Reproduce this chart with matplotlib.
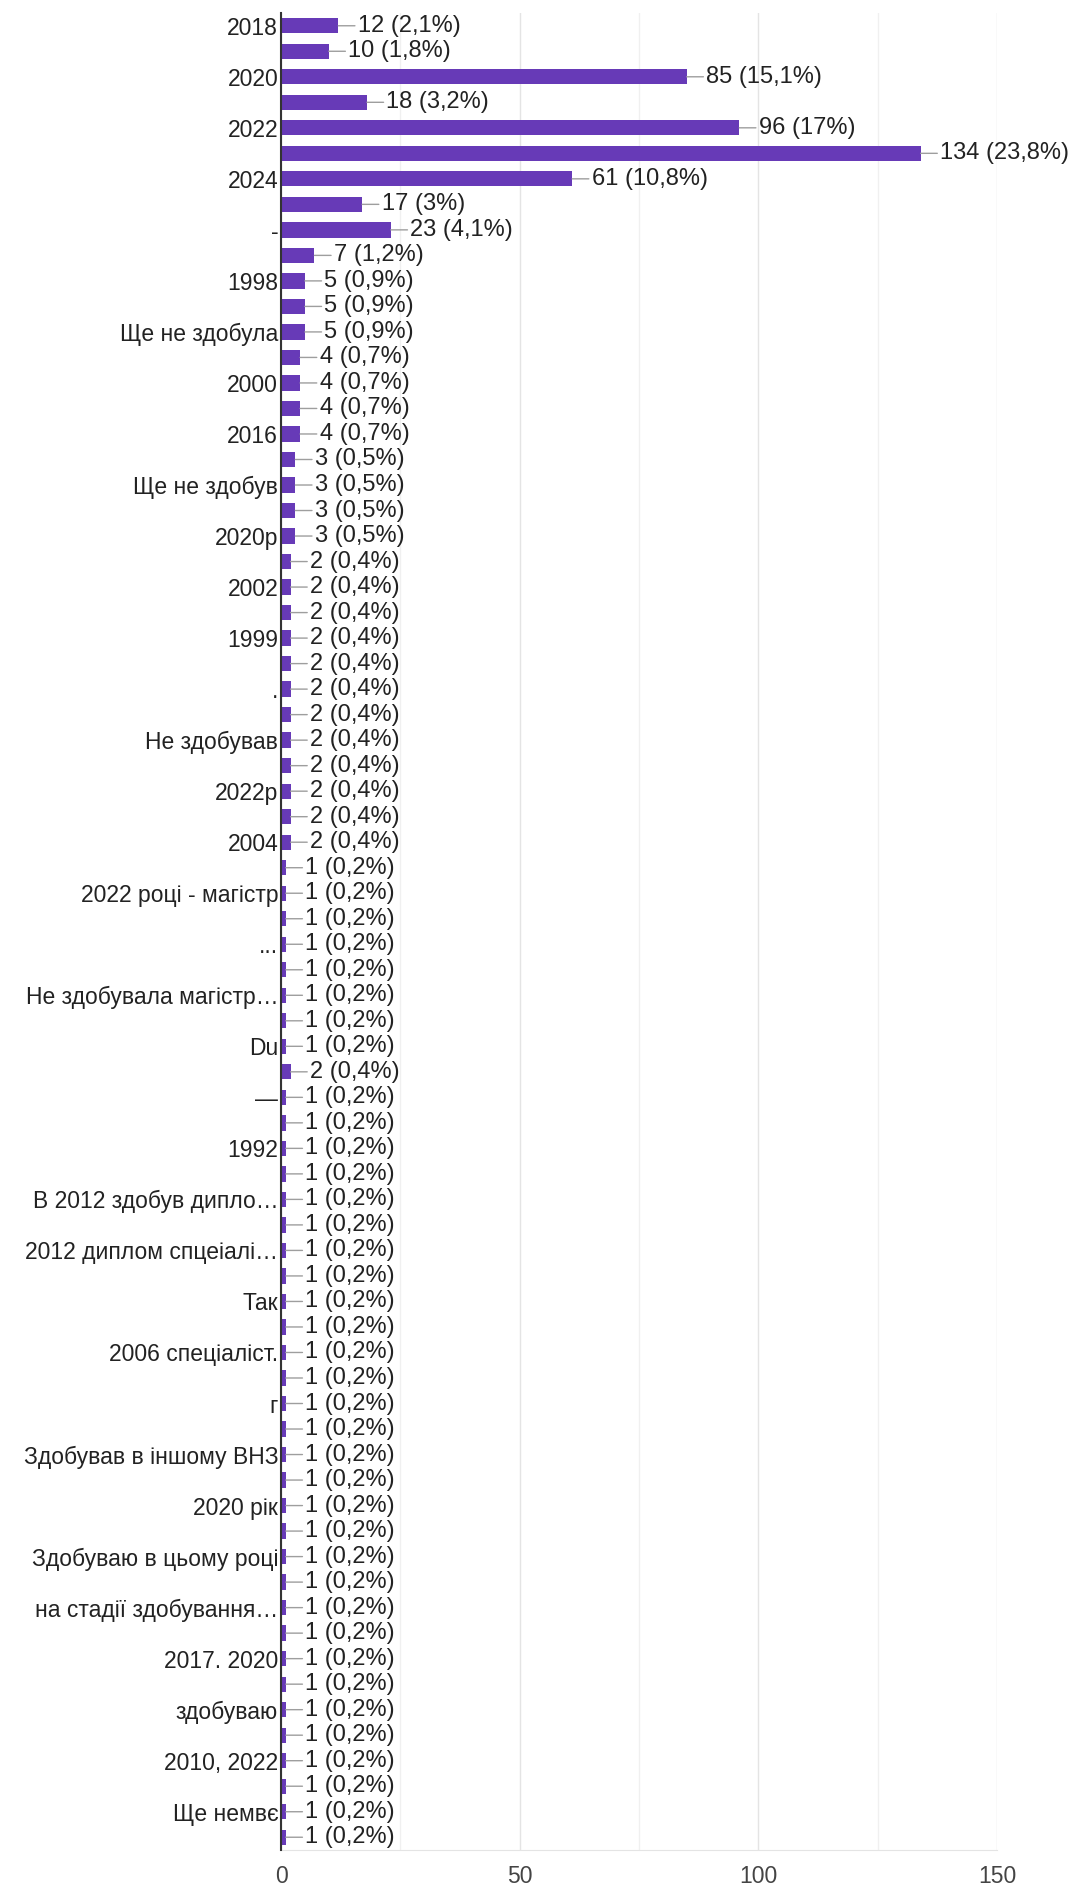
import matplotlib
matplotlib.use("Agg")
import matplotlib.pyplot as plt
from matplotlib.ticker import MultipleLocator

plt.rcParams['font.family'] = ['Liberation Sans', 'DejaVu Sans']

# categories shown on the axis (every second one is visible in the original)
labels = [
    "2018", "", "2020", "", "2022", "", "2024", "", "-", "",
    "1998", "", "Ще не здобула", "", "2000", "", "2016", "", "Ще не здобув", "",
    "2020р", "", "2002", "", "1999", "", ".", "", "Не здобував", "",
    "2022р", "", "2004", "", "2022 році - магістр", "", "...", "", "Не здобувала магістр…", "",
    "Du", "", "—", "", "1992", "", "В 2012 здобув дипло…", "", "2012 диплом спцеіалі…", "",
    "Так", "", "2006 спеціаліст.", "", "г", "", "Здобував в іншому ВНЗ", "", "2020 рік", "",
    "Здобуваю в цьому році", "", "на стадії здобування…", "", "2017. 2020", "", "здобуваю", "", "2010, 2022", "",
    "Ще немвє", "",
]

counts = [
    12, 10, 85, 18, 96, 134, 61, 17, 23, 7,
    5, 5, 5, 4, 4, 4, 4, 3, 3, 3,
    3, 2, 2, 2, 2, 2, 2, 2, 2, 2,
    2, 2, 2, 1, 1, 1, 1, 1, 1, 1,
    1, 2, 1, 1, 1, 1, 1, 1, 1, 1,
    1, 1, 1, 1, 1, 1, 1, 1, 1, 1,
    1, 1, 1, 1, 1, 1, 1, 1, 1, 1,
    1, 1,
]

percents = [
    "2,1", "1,8", "15,1", "3,2", "17", "23,8", "10,8", "3", "4,1", "1,2",
    "0,9", "0,9", "0,9", "0,7", "0,7", "0,7", "0,7", "0,5", "0,5", "0,5",
    "0,5", "0,4", "0,4", "0,4", "0,4", "0,4", "0,4", "0,4", "0,4", "0,4",
    "0,4", "0,4", "0,4", "0,2", "0,2", "0,2", "0,2", "0,2", "0,2", "0,2",
    "0,2", "0,4", "0,2", "0,2", "0,2", "0,2", "0,2", "0,2", "0,2", "0,2",
    "0,2", "0,2", "0,2", "0,2", "0,2", "0,2", "0,2", "0,2", "0,2", "0,2",
    "0,2", "0,2", "0,2", "0,2", "0,2", "0,2", "0,2", "0,2", "0,2", "0,2",
    "0,2", "0,2",
]

x_ticks = [0, 50, 100, 150]

W, H = 1071, 1887
fig = plt.figure(figsize=(W / 100, H / 100), dpi=100)
ax = fig.add_axes([281 / W, 1 - 1850 / H, (997 - 281) / W, (1850 - 13) / H])

pos = list(range(len(counts)))
ax.barh(pos, counts, height=0.6, color="#673ab7", zorder=3)

for i, (c, p) in enumerate(zip(counts, percents)):
    ax.annotate(f"{c} ({p}%)", xy=(c, i), xytext=(14, 0), textcoords="offset points",
                va="center", ha="left", fontsize=17, color="#222222",
                arrowprops=dict(arrowstyle="-", color="#9e9e9e", lw=1,
                                shrinkA=0, shrinkB=0),
                annotation_clip=False, zorder=4)

ax.set_xlim(0, 150)
ax.set_ylim(len(counts) - 0.5, -0.5)

ax.set_xticks(x_ticks)
ax.set_xticklabels([str(t) for t in x_ticks])
ax.xaxis.set_minor_locator(MultipleLocator(25))
ax.grid(axis="x", which="major", color="#e4e4e4", lw=1, zorder=0)
ax.grid(axis="x", which="minor", color="#f0f0f0", lw=1, zorder=0)

shown = [i for i, l in enumerate(labels) if l != ""]
ax.set_yticks(shown)
ax.set_yticklabels([labels[i] for i in shown])

ax.tick_params(axis="y", length=0, pad=2, labelsize=16.5, labelcolor="#222222")
ax.tick_params(axis="x", which="both", length=0, pad=11, labelsize=16.5, labelcolor="#444444")

for s in ["top", "right"]:
    ax.spines[s].set_visible(False)
ax.spines["left"].set_color("#333333")
ax.spines["left"].set_linewidth(1.5)
ax.spines["left"].set_zorder(5)
ax.spines["bottom"].set_color("#e4e4e4")

fig.savefig("out.png", dpi=100)
